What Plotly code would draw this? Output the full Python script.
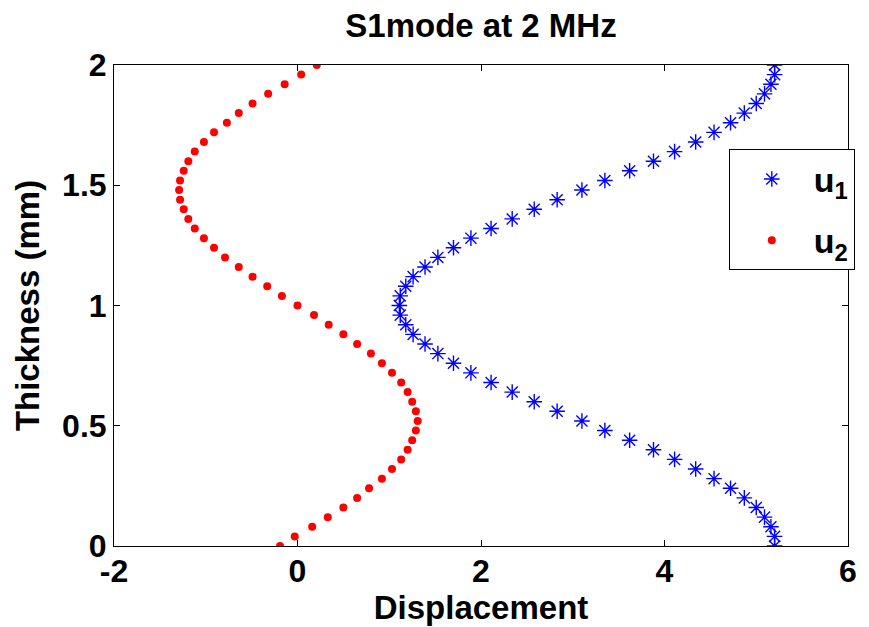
import plotly.graph_objects as go

thickness = [0.00, 0.04, 0.08, 0.12, 0.16, 0.20, 0.24, 0.28, 0.32, 0.36,
             0.40, 0.44, 0.48, 0.52, 0.56, 0.60, 0.64, 0.68, 0.72, 0.76,
             0.80, 0.84, 0.88, 0.92, 0.96, 1.00, 1.04, 1.08, 1.12, 1.16,
             1.20, 1.24, 1.28, 1.32, 1.36, 1.40, 1.44, 1.48, 1.52, 1.56,
             1.60, 1.64, 1.68, 1.72, 1.76, 1.80, 1.84, 1.88, 1.92, 1.96, 2.00]

u1 = [5.20, 5.20, 5.16, 5.09, 5.00, 4.87, 4.72, 4.54, 4.34, 4.11,
      3.88, 3.62, 3.35, 3.10, 2.83, 2.58, 2.34, 2.11, 1.89, 1.70,
      1.53, 1.39, 1.26, 1.18, 1.12, 1.11, 1.12, 1.18, 1.26, 1.39,
      1.53, 1.70, 1.89, 2.11, 2.34, 2.58, 2.83, 3.10, 3.35, 3.62,
      3.88, 4.11, 4.34, 4.54, 4.72, 4.87, 5.00, 5.09, 5.16, 5.20, 5.20]

u2 = [-0.19, -0.03, 0.16, 0.33, 0.50, 0.65, 0.78, 0.92, 1.03, 1.13,
      1.20, 1.25, 1.29, 1.31, 1.29, 1.25, 1.20, 1.13, 1.03, 0.92,
      0.80, 0.65, 0.50, 0.34, 0.18, 0.00, -0.17, -0.33, -0.49, -0.64,
      -0.79, -0.91, -1.02, -1.12, -1.19, -1.24, -1.28, -1.29, -1.28, -1.24,
      -1.19, -1.12, -1.02, -0.91, -0.77, -0.64, -0.49, -0.32, -0.14, 0.04, 0.21]

x_ticks = [-2, 0, 2, 4, 6]
y_ticks = [0, 0.5, 1, 1.5, 2]
y_tick_text = ["0", "0.5", "1", "1.5", "2"]

FONT = "Liberation Sans, Arial, sans-serif"

fig = go.Figure()
fig.add_trace(go.Scatter(
    x=u1, y=thickness, mode="markers", name="u<sub>1</sub>", legendgroup="g1",
    marker=dict(symbol="asterisk-open", size=13, color="#0000FF",
                line=dict(color="#0000FF", width=1.4)),
))
fig.add_trace(go.Scatter(
    x=u2, y=thickness, mode="markers", name="u<sub>2</sub>", legendgroup="g2",
    marker=dict(symbol="circle", size=8, color="#FF0000", line=dict(width=0)),
))

axis_common = dict(
    showline=True, linecolor="black", linewidth=1, mirror="ticks",
    ticks="inside", ticklen=6, tickcolor="black", tickwidth=1,
    showgrid=False, zeroline=False,
    tickfont=dict(family=FONT, size=32, color="black", weight="bold"),
)

fig.update_layout(
    width=869, height=627,
    margin=dict(l=114, r=13, t=65, b=80),
    paper_bgcolor="white", plot_bgcolor="white",
    title=dict(text="S1mode at 2 MHz", x=0.5, xref="paper", xanchor="center",
               y=1 - 25 / 627, yref="container", yanchor="middle",
               font=dict(family=FONT, size=33, color="black", weight="bold")),
    xaxis=dict(range=[-2, 6], tickvals=x_ticks, ticktext=[str(v) for v in x_ticks],
               ticklabelstandoff=-3,
               title=dict(text="Displacement", standoff=2,
                          font=dict(family=FONT, size=33, color="black", weight="bold")),
               **axis_common),
    yaxis=dict(range=[0, 2], tickvals=y_ticks, ticktext=y_tick_text,
               title=dict(text="Thickness (mm)", standoff=12,
                          font=dict(family=FONT, size=33, color="black", weight="bold")),
               **axis_common),
    legend=dict(x=(735.5 - 114) / (856 - 114), xanchor="left",
                y=(546.7 - 149.3) / (546.7 - 64.7), yanchor="top",
                bordercolor="black", borderwidth=1, bgcolor="white",
                font=dict(family=FONT, size=34, color="black", weight="bold"),
                itemwidth=74, tracegroupgap=14),
    showlegend=True,
)

fig.write_html("out.html")
